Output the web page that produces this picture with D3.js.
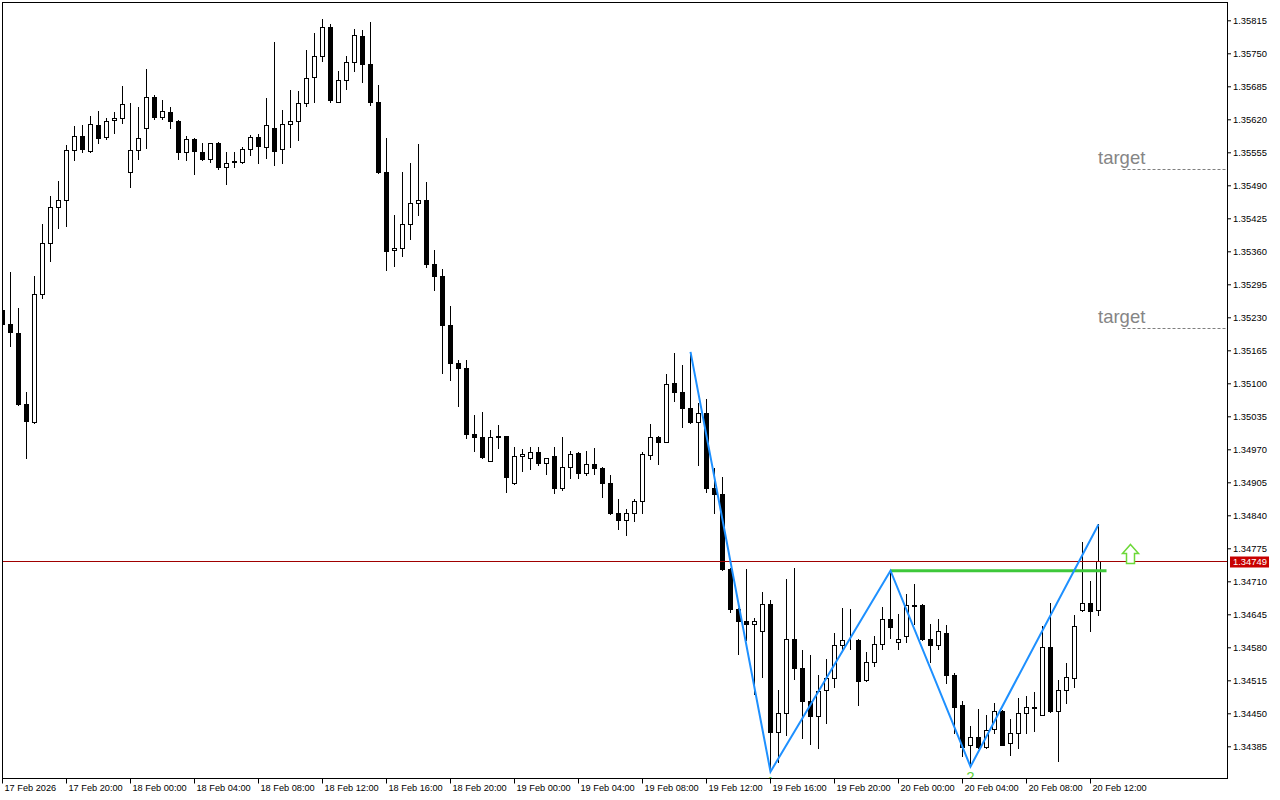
<!DOCTYPE html>
<html><head><meta charset="utf-8">
<script src="https://cdn.jsdelivr.net/npm/d3@7"></script>
<style>
html,body{margin:0;padding:0;background:#fff;}
svg{display:block;}
text{font-family:"Liberation Sans",Arial,sans-serif;}
</style></head><body>
<svg id="chart" width="1280" height="800"></svg>
<script>
// ---- data (M30 candles, 17 Feb 16:00 -> 20 Feb 12:30) ----
const opens = [1.35244,1.35216,1.35200,1.35059,1.35024,1.35275,1.35376,1.35447,1.35462,1.35559,
 1.35587,1.35557,1.35608,1.35585,1.35618,1.35622,1.35516,1.35559,1.35602,1.35663,
 1.35625,1.35634,1.35616,1.35555,1.35581,1.35555,1.35542,1.35573,1.35527,1.35538,
 1.35535,1.35561,1.35585,1.35566,1.35602,1.35561,1.35610,1.35616,1.35652,1.35703,
 1.35744,1.35801,1.35655,1.35697,1.35732,1.35785,1.35728,1.35655,1.35516,1.35362,
 1.35366,1.35413,1.35455,1.35462,1.35334,1.35312,1.35214,1.35139,1.35131,1.35000,
 1.34995,1.34947,1.34997,1.34996,1.34904,1.34956,1.34952,1.34964,1.34944,1.34956,
 1.34894,1.34935,1.34962,1.34924,1.34942,1.34934,1.34904,1.34845,1.34831,1.34845,
 1.34868,1.34958,1.34994,1.34984,1.35100,1.35082,1.35052,1.35023,1.35041,1.34894,
 1.34881,1.34734,1.34656,1.34632,1.34626,1.34612,1.34665,1.34414,1.34450,1.34596,
 1.34539,1.34475,1.34445,1.34495,1.34519,1.34584,1.34594,1.34595,1.34515,1.34552,
 1.34586,1.34635,1.34590,1.34602,1.34663,1.34663,1.34596,1.34584,1.34608,1.34525,
 1.34466,1.34387,1.34403,1.34384,1.34420,1.34454,1.34391,1.34412,1.34450,1.34462,
 1.34447,1.34581,1.34454,1.34495,1.34519,1.34653,1.34667,1.34653];
const highs = [1.35254,1.35319,1.35248,1.35082,1.35311,1.35414,1.35468,1.35499,1.35570,1.35607,
 1.35608,1.35627,1.35636,1.35622,1.35634,1.35686,1.35653,1.35644,1.35719,1.35668,
 1.35658,1.35644,1.35618,1.35587,1.35583,1.35573,1.35573,1.35575,1.35555,1.35555,
 1.35565,1.35590,1.35592,1.35662,1.35772,1.35638,1.35678,1.35676,1.35756,1.35790,
 1.35818,1.35807,1.35716,1.35744,1.35798,1.35795,1.35811,1.35687,1.35584,1.35431,
 1.35516,1.35534,1.35571,1.35496,1.35363,1.35325,1.35252,1.35145,1.35146,1.35038,
 1.35044,1.35008,1.35017,1.34997,1.34975,1.34971,1.34974,1.34974,1.34952,1.34974,
 1.34994,1.34966,1.34964,1.34966,1.34973,1.34936,1.34920,1.34872,1.34852,1.34872,
 1.34964,1.35020,1.34996,1.35119,1.35160,1.35137,1.35162,1.35061,1.35069,1.34934,
 1.34916,1.34736,1.34657,1.34735,1.34638,1.34688,1.34673,1.34495,1.34715,1.34736,
 1.34575,1.34564,1.34525,1.34556,1.34608,1.34657,1.34655,1.34596,1.34570,1.34602,
 1.34659,1.34731,1.34645,1.34684,1.34704,1.34665,1.34625,1.34635,1.34623,1.34529,
 1.34474,1.34425,1.34459,1.34446,1.34470,1.34456,1.34438,1.34481,1.34485,1.34491,
 1.34621,1.34667,1.34515,1.34549,1.34643,1.34787,1.34710,1.34822];
const lows = [1.35213,1.35174,1.35057,1.34952,1.35022,1.35269,1.35341,1.35405,1.35409,1.35539,
 1.35555,1.35555,1.35573,1.35582,1.35594,1.35613,1.35487,1.35542,1.35564,1.35621,
 1.35621,1.35603,1.35542,1.35539,1.35513,1.35539,1.35535,1.35523,1.35493,1.35527,
 1.35533,1.35550,1.35533,1.35544,1.35529,1.35533,1.35566,1.35580,1.35647,1.35655,
 1.35735,1.35654,1.35654,1.35680,1.35715,1.35694,1.35649,1.35514,1.35324,1.35332,
 1.35351,1.35385,1.35432,1.35330,1.35284,1.35121,1.35107,1.35056,1.34993,1.34967,
 1.34953,1.34946,1.34973,1.34886,1.34902,1.34928,1.34932,1.34940,1.34922,1.34883,
 1.34890,1.34914,1.34914,1.34920,1.34922,1.34877,1.34843,1.34814,1.34802,1.34829,
 1.34845,1.34950,1.34942,1.34984,1.35066,1.35013,1.35021,1.34940,1.34885,1.34845,
 1.34732,1.34650,1.34567,1.34594,1.34488,1.34522,1.34335,1.34355,1.34408,1.34517,
 1.34402,1.34390,1.34382,1.34431,1.34501,1.34576,1.34576,1.34467,1.34513,1.34543,
 1.34576,1.34598,1.34576,1.34590,1.34625,1.34594,1.34552,1.34576,1.34510,1.34412,
 1.34365,1.34345,1.34382,1.34382,1.34412,1.34387,1.34368,1.34382,1.34411,1.34415,
 1.34447,1.34452,1.34357,1.34471,1.34502,1.34652,1.34613,1.34643];
const closes = [1.35216,1.35202,1.35059,1.35026,1.35275,1.35376,1.35447,1.35462,1.35559,1.35587,
 1.35561,1.35610,1.35584,1.35616,1.35622,1.35650,1.35560,1.35583,1.35664,1.35625,
 1.35636,1.35617,1.35556,1.35581,1.35558,1.35542,1.35573,1.35527,1.35533,1.35535,
 1.35561,1.35585,1.35568,1.35608,1.35558,1.35610,1.35616,1.35652,1.35701,1.35744,
 1.35801,1.35659,1.35697,1.35732,1.35787,1.35728,1.35655,1.35516,1.35360,1.35366,
 1.35413,1.35455,1.35462,1.35334,1.35312,1.35214,1.35139,1.35131,1.35000,1.34995,
 1.34954,1.34994,1.34994,1.34916,1.34956,1.34960,1.34964,1.34944,1.34952,1.34894,
 1.34935,1.34960,1.34924,1.34942,1.34934,1.34904,1.34845,1.34831,1.34845,1.34868,
 1.34960,1.34994,1.34984,1.35098,1.35082,1.35052,1.35023,1.35041,1.34894,1.34881,
 1.34734,1.34656,1.34632,1.34626,1.34632,1.34665,1.34414,1.34450,1.34596,1.34539,
 1.34475,1.34445,1.34493,1.34519,1.34584,1.34594,1.34595,1.34513,1.34552,1.34586,
 1.34635,1.34619,1.34596,1.34663,1.34661,1.34596,1.34584,1.34612,1.34525,1.34463,
 1.34384,1.34403,1.34384,1.34418,1.34454,1.34388,1.34412,1.34450,1.34462,1.34460,
 1.34581,1.34454,1.34495,1.34521,1.34621,1.34667,1.34651,1.34749];

const timeTickBars = [0,8,16,24,32,40,48,56,64,72,80,88,96,104,112,120,128,136];
const timeLabels = ["17 Feb 2026","17 Feb 20:00","18 Feb 00:00","18 Feb 04:00","18 Feb 08:00",
 "18 Feb 12:00","18 Feb 16:00","18 Feb 20:00","19 Feb 00:00","19 Feb 04:00","19 Feb 08:00",
 "19 Feb 12:00","19 Feb 16:00","19 Feb 20:00","20 Feb 00:00","20 Feb 04:00","20 Feb 08:00","20 Feb 12:00"];
const priceTicks = [1.35815,1.35750,1.35685,1.35620,1.35555,1.35490,1.35425,1.35360,1.35295,
 1.35230,1.35165,1.35100,1.35035,1.34970,1.34905,1.34840,1.34775,1.34710,1.34645,1.34580,
 1.34515,1.34450,1.34385];

const zigzagBars = [86,96,111,121,137];
const zigzagPrices = [1.35162,1.34335,1.34731,1.34345,1.34822];
const pointBars = [96,121];
const pointLabels = ["1","2"];
const necklinePrice = 1.34731;
const necklineBars = [111,138];
const targetPrices = [1.35523,1.35208];
const targetBars = [140,153];
const targetTextBar = 137;
const arrowBar = 141;
const lastPrice = 1.34749;

// ---- layout ----
const svg = d3.select("#chart");
const plotL = 2, plotR = 1227, plotT = 2, plotB = 779;
const x = d3.scaleLinear().domain([0,137]).range([2,1098]);
const y = d3.scaleLinear().domain([1.34385,1.35815]).range([746.3,20.3]);
const cx = i => x(i) + 0.5;
const ry = p => Math.round(y(p));

svg.append("rect").attr("width",1280).attr("height",800).attr("fill","#fff");

svg.append("defs").append("clipPath").attr("id","plot")
  .append("rect").attr("x",plotL).attr("y",plotT).attr("width",plotR-plotL).attr("height",plotB-plotT);

const plot = svg.append("g").attr("clip-path","url(#plot)");

// candles
const idx = d3.range(opens.length);
const cg = plot.append("g");
cg.selectAll("line.wick").data(idx).join("line").attr("class","wick")
  .attr("x1",cx).attr("x2",cx)
  .attr("y1",i=>ry(highs[i])).attr("y2",i=>ry(lows[i])+1)
  .attr("stroke","#000").attr("stroke-width",1);
cg.selectAll("rect.body").data(idx).join("rect").attr("class","body")
  .attr("x",i=>cx(i)-2).attr("width",4)
  .attr("y",i=>ry(Math.max(opens[i],closes[i]))+0.5)
  .attr("height",i=>Math.max(0, ry(Math.min(opens[i],closes[i])) - ry(Math.max(opens[i],closes[i]))))
  .attr("fill",i=>closes[i]<opens[i]?"#000":"#fff")
  .attr("stroke","#000").attr("stroke-width",1);

// current price line
plot.append("line").attr("x1",plotL).attr("x2",plotR)
  .attr("y1",ry(lastPrice)+0.5).attr("y2",ry(lastPrice)+0.5)
  .attr("stroke","#a00000").attr("stroke-width",1);

// neckline
plot.append("line").attr("x1",cx(necklineBars[0])).attr("x2",cx(necklineBars[1]))
  .attr("y1",y(necklinePrice)).attr("y2",y(necklinePrice))
  .attr("stroke","#3ec83a").attr("stroke-width",3);

// zigzag
plot.append("path")
  .attr("d", d3.line()(zigzagBars.map((b,i)=>[cx(b), y(zigzagPrices[i])])))
  .attr("fill","none").attr("stroke","#1e90ff").attr("stroke-width",2);

// point labels (only their tops show above the time axis, clipped by the plot)
plot.selectAll("text.pt").data(pointBars).join("text").attr("class","pt")
  .attr("x",b=>cx(b)).attr("y",b=>y(lows[b])+15.5)
  .attr("text-anchor","middle").attr("font-size",15).attr("fill","#5fd13a")
  .text((b,i)=>pointLabels[i]);

// targets
targetPrices.forEach(p=>{
  plot.append("line").attr("x1",cx(targetBars[0])).attr("x2",cx(targetBars[1]))
    .attr("y1",ry(p)+0.5).attr("y2",ry(p)+0.5)
    .attr("stroke","#808080").attr("stroke-width",1).attr("stroke-dasharray","3,2");
  plot.append("text").attr("x",x(targetTextBar)).attr("y",y(p)-5)
    .attr("font-size",18.5).attr("fill","#858585").text("target");
});

// breakout arrow (hollow up arrow)
{
  const ax = cx(arrowBar), ay = y(lastPrice);
  const pts = [[0,-17],[8,-8],[4,-8],[4,2],[-4,2],[-4,-8],[-8,-8]];
  plot.append("path")
    .attr("d", d3.line()(pts.map(p=>[ax+p[0], ay+p[1]]))+"Z")
    .attr("fill","#fff").attr("stroke","#6cd838").attr("stroke-width",1.5);
}

// frame
svg.append("rect").attr("x",plotL+0.5).attr("y",plotT+0.5)
  .attr("width",plotR-plotL).attr("height",plotB-plotT-1)
  .attr("fill","none").attr("stroke","#000").attr("stroke-width",1);

// price axis
const yAxis = svg.append("g").attr("transform",`translate(${plotR},0)`)
  .call(d3.axisRight(y).tickValues(priceTicks).tickSize(4).tickPadding(2)
        .tickFormat(d3.format(".5f")));
yAxis.select(".domain").remove();
yAxis.selectAll("text").attr("font-size",9.4).attr("fill","#000")
  .style("font-family","'Liberation Sans',Arial,sans-serif");
yAxis.selectAll("line").attr("stroke","#000");

// last price tag
svg.append("rect").attr("x",1230).attr("y",ry(lastPrice)-4.5).attr("width",39).attr("height",11)
  .attr("fill","#c80000");
svg.append("text").attr("x",1233).attr("y",ry(lastPrice)+0.5).attr("dy","0.34em")
  .attr("font-size",9.4).attr("fill","#fff").text(d3.format(".5f")(lastPrice));

// time axis
const xAxis = svg.append("g").attr("transform",`translate(0,${plotB-0.5})`)
  .call(d3.axisBottom(x).tickValues(timeTickBars).tickSize(5).tickPadding(1)
        .tickFormat((d,i)=>timeLabels[i]));
xAxis.select(".domain").remove();
xAxis.selectAll("text").attr("text-anchor","start").attr("x",2)
  .attr("font-size",9.2).attr("fill","#000")
  .style("font-family","'Liberation Sans',Arial,sans-serif");
xAxis.selectAll("line").attr("stroke","#000");
</script>
</body></html>
